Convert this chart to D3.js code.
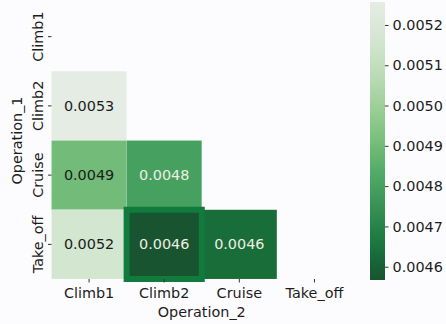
<!DOCTYPE html>
<html>
<head>
<meta charset="utf-8">
<script src="https://cdn.jsdelivr.net/npm/d3@7"></script>
<style>
  html, body { margin: 0; padding: 0; background: #fcfcfe; }
  svg { display: block; font-family: "DejaVu Sans", sans-serif; }
</style>
</head>
<body>
<svg id="chart" width="446" height="324"></svg>
<script>
// Operation pairs (lower triangle of the matrix)
const operations = ["Climb1", "Climb2", "Cruise", "Take_off"];
const cellRow   = ["Climb2", "Cruise", "Cruise", "Take_off", "Take_off", "Take_off"];
const cellCol   = ["Climb1", "Climb1", "Climb2", "Climb1",   "Climb2",   "Cruise"];
const cellValue = [0.005257, 0.00490, 0.00480, 0.00516, 0.004567, 0.00463];
const colorbarTicks = [0.0046, 0.0047, 0.0048, 0.0049, 0.0050, 0.0051, 0.0052];
const highlightRow = "Take_off";
const highlightCol = "Climb2";
const xTitle = "Operation_2";
const yTitle = "Operation_1";

const svg = d3.select("#chart");
const fontSize = 14.4;
const textDark = "#1c1c1c";

const plot = { left: 51.5, right: 352, top: 2, bottom: 279 };
const x = d3.scaleBand().domain(operations).range([plot.left, plot.right]);
const y = d3.scaleBand().domain(operations).range([plot.top, plot.bottom]);

// muted "Greens" ramp, reversed so low values are dark
const greens = ["#f7fcf5","#e5f5e0","#c7e9c0","#a1d99b","#74c476","#41ab5d","#238b45","#006d2c","#00441b"];
const vmin = d3.min(cellValue), vmax = d3.max(cellValue);
const interp = d3.piecewise(d3.interpolateRgb, greens);
const mute = c => d3.interpolateRgb(c, "rgb(140,160,145)")(0.17);
const color = d3.scaleSequential(t => mute(interp(1 - t))).domain([vmin, vmax]);

const cells = cellValue.map((v, i) => ({ row: cellRow[i], col: cellCol[i], value: v }));

// heatmap cells
svg.append("g").selectAll("rect").data(cells).join("rect")
  .attr("x", d => x(d.col))
  .attr("y", d => y(d.row))
  .attr("width", x.bandwidth())
  .attr("height", y.bandwidth())
  .attr("fill", d => color(d.value))
  .attr("stroke", "rgba(255,255,255,0.18)")
  .attr("stroke-width", 0.6);

function luminance(c) {
  const rgb = d3.rgb(c);
  const f = v => { v /= 255; return v <= 0.03928 ? v / 12.92 : Math.pow((v + 0.055) / 1.055, 2.4); };
  return 0.2126 * f(rgb.r) + 0.7152 * f(rgb.g) + 0.0722 * f(rgb.b);
}

// highlighted pair outline
svg.append("rect")
  .attr("x", x(highlightCol))
  .attr("y", y(highlightRow))
  .attr("width", x.bandwidth())
  .attr("height", y.bandwidth())
  .attr("fill", "none")
  .attr("stroke", "#117a3d")
  .attr("stroke-width", 6);

// annotations
svg.append("g").selectAll("text").data(cells).join("text")
  .attr("x", d => x(d.col) + x.bandwidth() / 2)
  .attr("y", d => y(d.row) + y.bandwidth() / 2)
  .attr("text-anchor", "middle")
  .attr("dominant-baseline", "central")
  .attr("font-size", fontSize)
  .attr("fill", d => luminance(color(d.value)) > 0.3 ? textDark : "#efeee2")
  .text(d => d.value.toFixed(4));

// x axis
const xAxis = svg.append("g")
  .attr("transform", `translate(0,${plot.bottom})`)
  .call(d3.axisBottom(x).tickSize(3.5).tickPadding(5));
xAxis.select(".domain").remove();
xAxis.selectAll(".tick line").attr("stroke", "#333");
xAxis.selectAll(".tick text")
  .attr("font-size", fontSize).attr("font-family", "DejaVu Sans")
  .attr("fill", textDark);

// y axis with vertical labels
const yAxis = svg.append("g")
  .attr("transform", `translate(${plot.left},0)`)
  .call(d3.axisLeft(y).tickSize(3.5));
yAxis.select(".domain").remove();
yAxis.selectAll(".tick line").attr("stroke", "#333");
yAxis.selectAll(".tick text")
  .attr("transform", "rotate(-90)")
  .attr("x", 0).attr("y", -9).attr("dy", null)
  .attr("text-anchor", "middle")
  .attr("font-size", fontSize).attr("font-family", "DejaVu Sans")
  .attr("fill", textDark);

// axis titles
svg.append("text")
  .attr("x", (plot.left + plot.right) / 2).attr("y", 316.5)
  .attr("text-anchor", "middle").attr("font-size", fontSize).attr("fill", textDark)
  .text(xTitle);
svg.append("text")
  .attr("transform", `translate(22,${(plot.top + plot.bottom) / 2}) rotate(-90)`)
  .attr("text-anchor", "middle").attr("font-size", fontSize).attr("fill", textDark)
  .text(yTitle);

// colorbar
const cb = { x: 370, width: 15, top: 2, bottom: 280 };
const cbScale = d3.scaleLinear().domain([vmin, vmax]).range([cb.bottom, cb.top]);
const grad = svg.append("defs").append("linearGradient")
  .attr("id", "cbgrad").attr("x1", 0).attr("y1", 1).attr("x2", 0).attr("y2", 0);
d3.range(0, 1.0001, 0.05).forEach(t => {
  grad.append("stop").attr("offset", t).attr("stop-color", color(vmin + t * (vmax - vmin)));
});
svg.append("rect")
  .attr("x", cb.x).attr("y", cb.top)
  .attr("width", cb.width).attr("height", cb.bottom - cb.top)
  .attr("fill", "url(#cbgrad)");
const cbAxis = svg.append("g")
  .attr("transform", `translate(${cb.x + cb.width},0)`)
  .call(d3.axisRight(cbScale).tickValues(colorbarTicks).tickFormat(d3.format(".4f")).tickSize(3.5).tickPadding(4));
cbAxis.select(".domain").remove();
cbAxis.selectAll(".tick line").attr("stroke", "#333");
cbAxis.selectAll(".tick text")
  .attr("font-size", fontSize).attr("font-family", "DejaVu Sans")
  .attr("fill", textDark);
</script>
</body>
</html>
